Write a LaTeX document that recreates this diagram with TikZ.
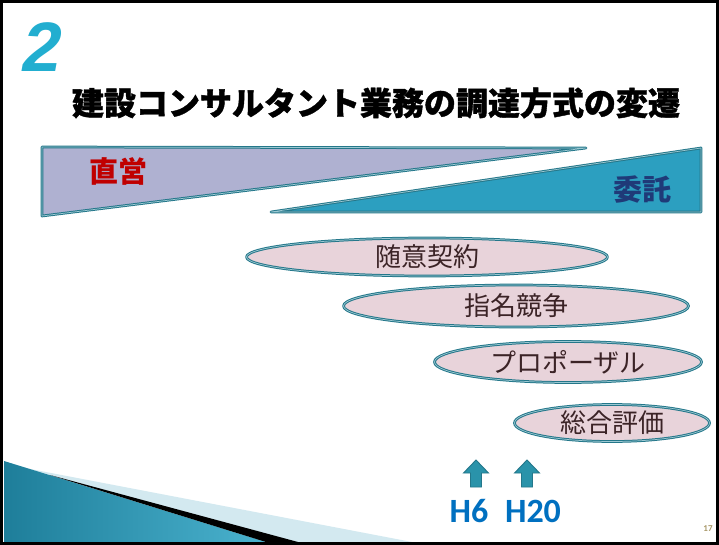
\documentclass[tikz,border=0pt]{standalone}
\usepackage{fontspec}
\newfontfamily\cjk{Noto Sans CJK JP}
\newfontfamily\cjkheavy{Noto Sans CJK JP}[BoldFeatures={FakeBold=1.2}]
\newfontfamily\latin{Carlito}
\newfontfamily\digit{Liberation Sans}
\usetikzlibrary{shapes.geometric}
\definecolor{lav}{HTML}{AFB1D1}
\definecolor{trifill}{HTML}{2C9FC0}
\definecolor{bord}{HTML}{24778A}
\definecolor{bordlight}{HTML}{9CC8D2}
\definecolor{ellfill}{HTML}{E8D3DA}
\definecolor{elltext}{HTML}{3B2326}
\definecolor{redtxt}{HTML}{C00000}
\definecolor{navytxt}{HTML}{1F3A78}
\definecolor{hblue}{HTML}{0070C0}
\definecolor{arrfill}{HTML}{2A93AA}
\definecolor{twocol}{HTML}{22AED0}
\definecolor{pagecol}{HTML}{A89868}
\definecolor{decodark}{HTML}{1E7E9A}
\definecolor{decolight}{HTML}{4AB2CE}
\definecolor{decopale}{HTML}{D3E9F0}
\tikzset{
  dblline/.style={draw=bord, line width=1pt, double=bordlight, double distance=0.7pt, line join=round},
  ellbox/.style={ellipse, dblline, fill=ellfill, inner sep=0pt, text=elltext, font=\cjk\fontsize{26}{26}\selectfont},
  uparrow/.style={draw=bord, line width=0.9pt, fill=arrfill, line join=miter},
  hlabel/.style={anchor=base, text=hblue, font=\latin\bfseries\fontsize{34}{34}\selectfont, inner sep=0pt},
}
\begin{document}
\begin{tikzpicture}[x=1pt,y=-1pt]
\useasboundingbox (0,0) rectangle (719,545);
\fill[white] (0,0) rectangle (719,545);
% bottom-left decoration
\fill[decopale] (4,464) -- (412,542) -- (4,542) -- cycle;
\shade[left color=decodark, right color=decolight] (4,461) -- (266,542) -- (4,542) -- cycle;
\fill[black] (50,475) -- (298,542) -- (266,542) -- cycle;
% frame
\draw[black, line width=2.5pt] (1.5,1.5) rectangle (717.5,543);
\draw[black, line width=3pt] (0,543) -- (719,543);
% number 2
\node[text=twocol, inner sep=0pt, font=\digit\bfseries\fontsize{70}{70}\selectfont, xslant=0.18] (two) at (43,47) {2};
% title
\node[inner sep=0pt, font=\cjkheavy\bfseries\fontsize{32}{32}\selectfont] (title) at (376,103) {建設コンサルタント業務の調達方式の変遷};
% triangles
\path[dblline, fill=lav] (42,147) -- (586,148) -- (42,216) -- cycle;
\path[dblline, fill=trifill] (271,212) -- (701,148) -- (701,212) -- cycle;
\node[text=redtxt, inner sep=0pt, font=\cjk\bfseries\fontsize{29}{29}\selectfont] (chokuei) at (118,171) {直営};
\node[text=navytxt, inner sep=0pt, font=\cjk\bfseries\fontsize{29}{29}\selectfont] (itaku) at (642,189) {委託};
% ellipses
\node[ellbox, minimum width=361pt, minimum height=38pt] (e1) at (427,257) {随意契約};
\node[ellbox, minimum width=345pt, minimum height=42pt] (e2) at (516,306) {指名競争};
\node[ellbox, minimum width=267pt, minimum height=41pt] (e3) at (568,362) {プロポーザル};
\node[ellbox, minimum width=195pt, minimum height=37pt] (e4) at (612,423) {総合評価};
% up arrows
\path[uparrow] (476,460) -- (488.5,473) -- (481.5,473) -- (481.5,487) -- (470.5,487) -- (470.5,473) -- (463.5,473) -- cycle;
\path[uparrow] (527,460) -- (539.5,473) -- (532.5,473) -- (532.5,487) -- (521.5,487) -- (521.5,473) -- (514.5,473) -- cycle;
\node[hlabel] (h6) at (469,522) {H6};
\node[hlabel] (h20) at (533,522) {H20};
% page number
\node[text=pagecol, inner sep=0pt, font=\latin\bfseries\fontsize{9}{9}\selectfont] (page) at (708,529) {17};
\end{tikzpicture}
\end{document}
